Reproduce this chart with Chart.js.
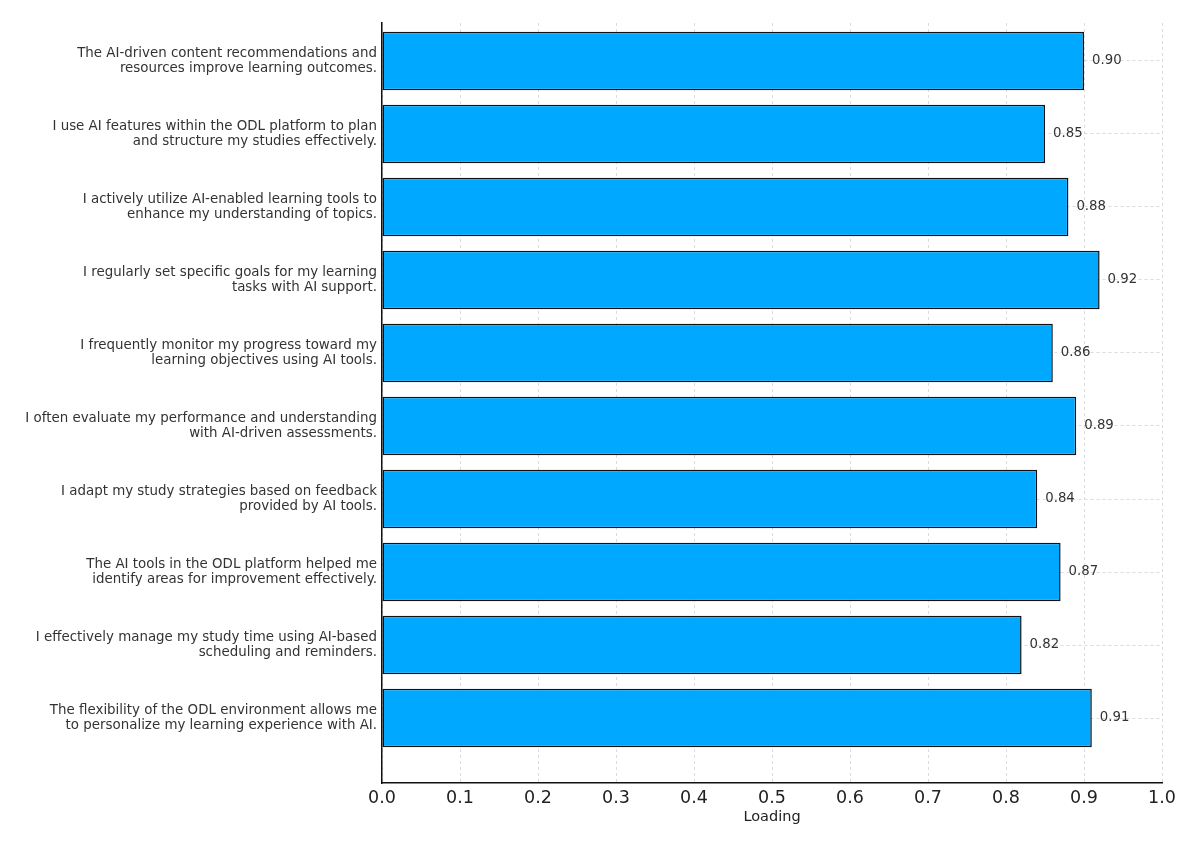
<!DOCTYPE html>
<html>
<head>
<meta charset="utf-8">
<script src="https://cdn.jsdelivr.net/npm/chart.js@4"></script>
<style>
  html, body { margin: 0; padding: 0; background: #fff; }
  #wrap { width: 1200px; height: 852px; position: relative; }
</style>
</head>
<body>
<div id="wrap"><canvas id="loadingChart"></canvas></div>
<script>
// Items (two-line labels), top to bottom
const items = [
    ['The AI-driven content recommendations and', 'resources improve learning outcomes.'],
    ['I use AI features within the ODL platform to plan', 'and structure my studies effectively.'],
    ['I actively utilize AI-enabled learning tools to', 'enhance my understanding of topics.'],
    ['I regularly set specific goals for my learning', 'tasks with AI support.'],
    ['I frequently monitor my progress toward my', 'learning objectives using AI tools.'],
    ['I often evaluate my performance and understanding', 'with AI-driven assessments.'],
    ['I adapt my study strategies based on feedback', 'provided by AI tools.'],
    ['The AI tools in the ODL platform helped me', 'identify areas for improvement effectively.'],
    ['I effectively manage my study time using AI-based', 'scheduling and reminders.'],
    ['The flexibility of the ODL environment allows me', 'to personalize my learning experience with AI.']
];

// Factor loadings
const loadings = [0.90, 0.85, 0.88, 0.92, 0.86, 0.89, 0.84, 0.87, 0.82, 0.91];

// x axis ticks
const xTicks = [0.0, 0.1, 0.2, 0.3, 0.4, 0.5, 0.6, 0.7, 0.8, 0.9, 1.0];

const FONT = "'DejaVu Sans', Verdana, sans-serif";
const gridColor = 'rgba(190, 190, 190, 0.55)';

// write the loading value just right of each bar
const valueLabels = {
    id: 'valueLabels',
    afterDatasetsDraw(chart) {
        const { ctx } = chart;
        const meta = chart.getDatasetMeta(0);
        ctx.save();
        ctx.font = '13.3px ' + FONT;
        ctx.fillStyle = '#333';
        ctx.textAlign = 'left';
        ctx.textBaseline = 'middle';
        meta.data.forEach((bar, i) => {
            ctx.fillText(loadings[i].toFixed(2), bar.x + 8, bar.y);
        });
        ctx.restore();
    }
};

function initializeLoadingChart() {
    const ctx = document.getElementById('loadingChart');
    if (!ctx) return;

    new Chart(ctx, {
        type: 'bar',
        data: {
            datasets: [{
                label: 'Loading',
                data: loadings.map((v, i) => ({ x: v, y: i })),
                backgroundColor: '#00a9ff',
                borderColor: '#111',
                borderWidth: 1.5,
                borderSkipped: false,
                barPercentage: 0.8,
                categoryPercentage: 1.0
            }]
        },
        options: {
            indexAxis: 'y',
            responsive: true,
            maintainAspectRatio: false,
            animation: false,
            layout: {
                padding: { top: 23, bottom: 0, left: 0, right: 38 }
            },
            plugins: {
                legend: { display: false },
                tooltip: { enabled: false }
            },
            scales: {
                x: {
                    type: 'linear',
                    min: 0,
                    max: 1,
                    z: 1,
                    afterBuildTicks: (scale) => {
                        scale.ticks = xTicks.map(v => ({ value: v }));
                    },
                    afterFit: (scale) => { scale.height = 69; },
                    grid: { color: gridColor, lineWidth: 1, drawTicks: false },
                    border: { color: '#111', width: 1.5, dash: [3, 3] },
                    ticks: {
                        padding: 5,
                        color: '#222',
                        font: { family: FONT, size: 17.5 },
                        callback: (value) => Number(value).toFixed(1)
                    },
                    title: {
                        display: true,
                        text: 'Loading',
                        color: '#222',
                        font: { family: FONT, size: 14.5 },
                        padding: { top: 2, bottom: 26 }
                    }
                },
                y: {
                    type: 'linear',
                    reverse: true,
                    offset: false,
                    min: -0.52,
                    max: 9.89,
                    z: 1,
                    afterBuildTicks: (scale) => {
                        scale.ticks = items.map((_, i) => ({ value: i }));
                    },
                    afterFit: (scale) => { scale.width = 382; },
                    grid: { color: gridColor, lineWidth: 1, drawTicks: false, offset: false },
                    border: { color: '#111', width: 1.5, dash: [3, 3] },
                    ticks: {
                        padding: 5,
                        color: '#333',
                        font: { family: FONT, size: 13.4, lineHeight: 1.15 },
                        callback: (value) => items[value]
                    }
                }
            }
        },
        plugins: [valueLabels]
    });
}

document.addEventListener('DOMContentLoaded', function () {
    initializeLoadingChart();
});
</script>
</body>
</html>
